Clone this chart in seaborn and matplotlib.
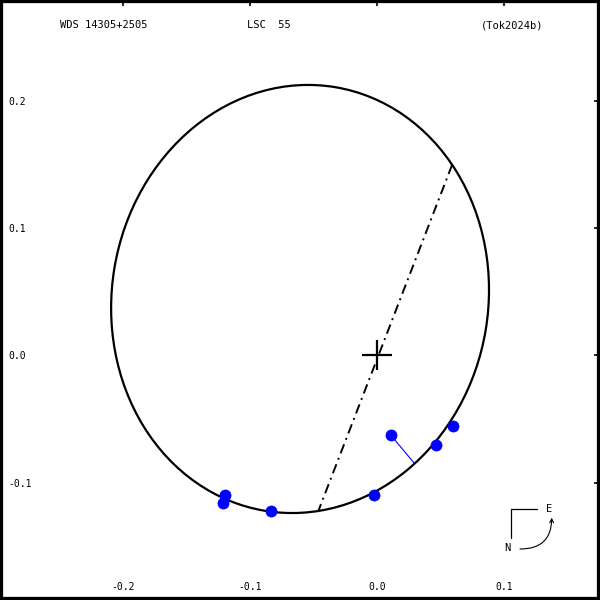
import matplotlib
matplotlib.use("Agg")
import matplotlib.pyplot as plt
from matplotlib.patches import Ellipse
import seaborn as sns
import pandas as pd

# ---- texts ----
title_left = "WDS 14305+2505"
title_mid = "LSC  55"
title_right = "(Tok2024b)"

# ---- axis ticks ----
x_ticks = [-0.2, -0.1, 0.0, 0.1]
x_tick_labels = ["-0.2", "-0.1", "0.0", "0.1"]
y_ticks = [0.2, 0.1, 0.0, -0.1]
y_tick_labels = ["0.2", "0.1", "0.0", "-0.1"]

# ---- observations (measured) and predicted positions on orbit ----
obs_x = [0.0108, 0.0467, 0.0601, -0.0024, -0.1197, -0.1213, -0.0837]
obs_y = [-0.0625, -0.0705, -0.0551, -0.1093, -0.1096, -0.1156, -0.1222]
pred_x = [0.0294, 0.0463, 0.0598, -0.0026, -0.1192, -0.1205, -0.0836]
pred_y = [-0.0847, -0.0709, -0.0555, -0.1098, -0.1106, -0.1140, -0.1226]

# ---- apparent orbit ellipse ----
ell_center = (-0.0606, 0.0444)
ell_major = 0.1687
ell_minor = 0.1482
ell_angle = 80.5

# ---- line of nodes ----
node_x = [0.0591, -0.0465]
node_y = [0.1497, -0.1229]

# ---- primary ----
primary_x = [0.0]
primary_y = [0.0]

sns.set_style("white")
plt.rcParams["font.family"] = ["DejaVu Sans Mono"]
plt.rcParams["text.color"] = "black"

fig = plt.figure(figsize=(6, 6), dpi=100)
ax = fig.add_axes([0, 0, 1, 1])

ax.set_xlim(-0.2969, 0.1756)
ax.set_ylim(-0.1921, 0.2793)

# ellipse
ell = Ellipse(ell_center, width=2 * ell_major, height=2 * ell_minor, angle=ell_angle,
              fill=False, edgecolor="black", linewidth=1.6, zorder=2)
ax.add_patch(ell)

# line of nodes
ax.plot(node_x, node_y, color="black", linewidth=1.4,
        linestyle=(0, (5, 2.5, 1, 2.5)), zorder=2)

# primary cross
ax.plot(primary_x, primary_y, marker="+", markersize=22, markeredgewidth=1.6,
        color="black", linestyle="none", zorder=3)

# residual lines
for ox, oy, px, py in zip(obs_x, obs_y, pred_x, pred_y):
    ax.plot([ox, px], [oy, py], color="blue", linewidth=0.8, zorder=3)

# observations
df = pd.DataFrame({"x": obs_x, "y": obs_y})
sns.scatterplot(data=df, x="x", y="y", ax=ax, color="blue", s=64,
                edgecolor="blue", linewidth=0.5, zorder=4)
ax.set_xlabel("")
ax.set_ylabel("")

# ticks
ax.set_xticks(x_ticks)
ax.set_xticklabels(x_tick_labels)
ax.set_yticks(y_ticks)
ax.set_yticklabels(y_tick_labels)
ax.tick_params(axis="both", direction="in", length=4.5, width=1.2, color="black",
               top=True, right=True, labeltop=False, labelright=False,
               labelsize=7, labelcolor="black")
ax.tick_params(axis="y", pad=-6.3)
ax.tick_params(axis="x", pad=-5.5)
for lab in ax.get_yticklabels():
    lab.set_horizontalalignment("left")
for lab in ax.get_xticklabels():
    lab.set_verticalalignment("bottom")

for sp in ax.spines.values():
    sp.set_visible(True)
    sp.set_color("black")
    sp.set_linewidth(4.5)

# header texts
ax.text(0.1, 0.958, title_left, transform=ax.transAxes, fontsize=7.5,
        ha="left", va="center", color="black")
ax.text(0.412, 0.958, title_mid, transform=ax.transAxes, fontsize=7.5,
        ha="left", va="center", color="black")
ax.text(0.802, 0.958, title_right, transform=ax.transAxes, fontsize=7.5,
        ha="left", va="center", color="black")

# compass
ax.plot([0.851, 0.8945], [0.1512, 0.1512], color="black", linewidth=0.9,
        transform=ax.transAxes)
ax.plot([0.851, 0.851], [0.1512, 0.1028], color="black", linewidth=0.9,
        transform=ax.transAxes)
ax.text(0.9155, 0.1517, "E", transform=ax.transAxes, fontsize=7.5,
        ha="center", va="center", color="black")
ax.text(0.8455, 0.0862, "N", transform=ax.transAxes, fontsize=7.5,
        ha="center", va="center", color="black")
ax.annotate("", xy=(0.9195, 0.1372), xycoords="axes fraction",
            xytext=(0.8667, 0.085), textcoords="axes fraction",
            arrowprops=dict(arrowstyle="->", color="black", linewidth=0.8,
                            connectionstyle="arc3,rad=0.5",
                            shrinkA=0, shrinkB=0, mutation_scale=7))

fig.savefig("out.png", dpi=100)
